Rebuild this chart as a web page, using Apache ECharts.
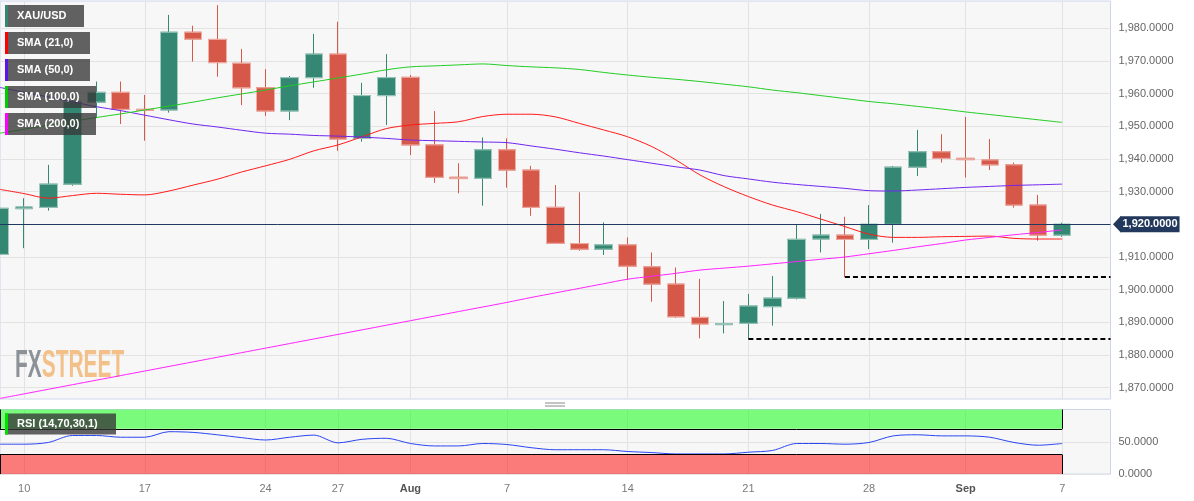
<!DOCTYPE html>
<html><head><meta charset="utf-8">
<script src="https://cdn.jsdelivr.net/npm/echarts@6/dist/echarts.min.js"></script>
<style>html,body{margin:0;padding:0;background:#fff;}#c{width:1194px;height:501px;}</style>
</head><body><div id="c"></div>
<script>
const dates = ['Jul 7','Jul 10','Jul 11','Jul 12','Jul 13','Jul 14','Jul 17','Jul 18','Jul 19','Jul 20','Jul 21','Jul 24','Jul 25','Jul 26','Jul 27','Jul 28','Jul 31','Aug 1','Aug 2','Aug 3','Aug 4','Aug 7','Aug 8','Aug 9','Aug 10','Aug 11','Aug 14','Aug 15','Aug 16','Aug 17','Aug 18','Aug 21','Aug 22','Aug 23','Aug 24','Aug 25','Aug 28','Aug 29','Aug 30','Aug 31','Sep 1','Sep 4','Sep 5','Sep 6','Sep 7'];
const futureDates = ['Sep 8','Sep 11'];
const opens  = [1910.8,1924.8,1925.2,1932.3,1957.4,1960.4,1955.2,1955.0,1978.8,1976.6,1969.3,1961.8,1954.7,1964.9,1972.1,1946.3,1959.4,1965.0,1944.3,1934.4,1934.1,1942.8,1936.6,1925.2,1914.1,1912.4,1913.7,1907.0,1901.7,1891.5,1889.3,1889.7,1894.8,1897.4,1915.5,1916.7,1915.4,1920.0,1937.5,1942.2,1940.2,1939.7,1938.2,1925.9,1916.7];
const highs  = [1934.6,1928.0,1938.2,1959.5,1963.7,1963.7,1959.6,1984.1,1980.8,1987.1,1973.7,1967.5,1965.4,1978.3,1982.0,1963.3,1972.1,1965.7,1954.7,1938.7,1946.6,1946.3,1937.9,1932.0,1929.8,1920.6,1916.0,1911.4,1906.8,1903.3,1896.5,1898.7,1904.2,1920.0,1923.2,1922.3,1925.9,1937.9,1948.9,1947.6,1952.9,1946.1,1938.9,1929.0,1920.5];
const lows   = [1909.6,1912.7,1924.2,1931.8,1952.5,1950.7,1945.6,1954.2,1969.8,1965.2,1956.5,1953.2,1951.9,1961.8,1942.5,1945.3,1950.4,1941.2,1932.7,1929.5,1925.7,1931.2,1922.6,1914.0,1911.9,1910.6,1903.0,1896.3,1891.4,1885.1,1886.6,1884.9,1889.0,1897.0,1911.4,1903.8,1912.4,1914.4,1934.8,1938.9,1934.3,1936.6,1925.1,1915.0,1916.2];
const closes = [1924.9,1925.3,1932.3,1957.5,1960.4,1955.2,1954.9,1978.8,1976.7,1969.5,1961.8,1954.7,1964.9,1972.1,1946.1,1959.4,1964.9,1944.3,1934.4,1934.0,1942.8,1936.6,1925.2,1914.2,1912.4,1913.7,1907.2,1901.7,1891.7,1889.5,1889.6,1895.0,1897.4,1915.4,1916.7,1915.4,1920.0,1937.5,1942.2,1940.2,1939.8,1938.2,1925.9,1916.7,1920.0];
const sma21  = [1930.7,1929.4,1928.0,1928.8,1929.5,1929.2,1929.0,1930.2,1932.0,1933.8,1936.0,1937.9,1939.9,1942.5,1944.3,1946.8,1949.3,1950.4,1950.9,1951.4,1953.0,1953.7,1953.7,1952.9,1950.9,1948.9,1946.8,1943.8,1939.7,1935.1,1931.5,1928.5,1925.9,1923.9,1921.6,1919.3,1917.0,1916.0,1916.0,1916.2,1916.3,1916.4,1915.7,1915.5,1915.5];
const sma50  = [1961.9,1960.4,1959.0,1957.5,1956.0,1954.8,1953.4,1952.0,1950.7,1949.8,1948.8,1947.9,1947.6,1947.2,1947.0,1946.7,1946.3,1945.8,1945.6,1945.4,1945.2,1945.0,1944.0,1943.0,1941.9,1940.9,1939.8,1938.7,1937.6,1936.6,1934.9,1933.9,1932.9,1932.2,1931.6,1931.0,1930.3,1930.2,1930.5,1930.9,1931.3,1931.6,1931.9,1932.1,1932.3];
const sma100 = [1947.9,1949.1,1950.3,1951.5,1952.7,1953.8,1955.0,1956.2,1957.4,1958.7,1959.9,1961.1,1962.4,1963.6,1964.8,1966.0,1967.3,1968.2,1968.5,1968.8,1969.1,1968.6,1968.2,1967.9,1967.4,1966.5,1965.7,1965.0,1964.4,1963.7,1962.9,1962.1,1961.1,1960.3,1959.4,1958.5,1957.6,1956.9,1956.1,1955.3,1954.4,1953.6,1952.8,1952.0,1951.2];
const sma200 = [1866.7,1868.1,1869.5,1870.9,1872.3,1873.7,1875.1,1876.5,1877.9,1879.3,1880.7,1882.1,1883.5,1884.9,1886.3,1887.7,1889.1,1890.5,1891.9,1893.3,1894.7,1896.1,1897.6,1899.0,1900.4,1901.8,1903.2,1904.1,1905.0,1906.0,1906.6,1907.2,1907.9,1908.6,1909.3,1910.0,1911.0,1912.0,1913.1,1914.1,1915.2,1916.0,1916.8,1917.5,1918.3];
const rsi    = [46.2,46.2,48.9,59.7,59.7,57.0,57.0,65.6,64.5,60.8,56.4,52.7,57.0,60.3,48.3,53.8,55.4,47.3,43.5,43.5,47.3,45.7,40.8,37.6,37.6,37.6,34.9,33.2,31.1,31.1,31.1,33.8,36.5,47.3,47.3,46.2,48.9,59.1,60.8,59.1,59.1,57.0,48.9,44.6,47.3];
const priceTicks = [1870,1880,1890,1900,1910,1920,1930,1940,1950,1960,1970,1980];
const rsiTicks = [0,50];
const labelDates = ['Jul 10','Jul 17','Jul 24','Jul 27','Aug 1','Aug 7','Aug 14','Aug 21','Aug 28','Sep 1','Sep 7'];
const labelTexts = ['10','17','24','27','Aug','7','14','21','28','Sep','7'];
const monthTexts = ['Aug','Sep'];
const levels = [{from:'Aug 25', value:1904.0},{from:'Aug 21', value:1884.9}];
const rsiBands = {overbought:70, oversold:30};
const legendNames = ['XAU/USD','SMA (21,0)','SMA (50,0)','SMA (100,0)','SMA (200,0)'];

const UP='#338773', DOWN='#d55848';
const cats = dates.concat(futureDates);
const lastDate = dates[dates.length-1];
const lastClose = closes[closes.length-1];
const candle = dates.map((d,i)=>[opens[i],closes[i],lows[i],highs[i]]);
const bodies = dates.map((d,i)=>[opens[i],closes[i],Math.min(opens[i],closes[i]),Math.max(opens[i],closes[i])]);
const fmt = v => Number(v).toLocaleString('en-US',{minimumFractionDigits:4,maximumFractionDigits:4});
const isLbl = (i,v) => labelDates.indexOf(v) >= 0;
const FONT = '"Liberation Sans", Arial, sans-serif';

const chart = echarts.init(document.getElementById('c'), null, {renderer:'canvas'});
const gridCommon = {show:true, backgroundColor:'#f7f7f7', borderColor:'#ccd6eb', borderWidth:1, containLabel:false, outerBoundsMode:'none'};
const xCommon = {type:'category', data:cats, boundaryGap:false,
  axisLine:{show:false}, axisTick:{show:false},
  splitLine:{show:true, interval:isLbl, lineStyle:{color:'#e3e3e3', width:1}}};

const legendColors = [UP,'#ff0000','#5a14e8','#00cc00','#ff00ff'];
const legendWidths = [79,85,85,91,91];
const TOP = 100;
const graphics = [];
legendNames.forEach((n,i)=>{
  const y = 5 + i*27;
  graphics.push({type:'rect', z:TOP, shape:{x:5,y:y,width:legendWidths[i],height:22}, style:{fill:'rgba(55,55,55,0.78)'}});
  graphics.push({type:'rect', z:TOP+1, shape:{x:5,y:y,width:3,height:22}, style:{fill:legendColors[i]}});
  graphics.push({type:'text', z:TOP+2, x:17, y:y+11, style:{text:n, fill:'#fff', font:'bold 11px '+FONT, verticalAlign:'middle'}});
});
graphics.push({type:'rect', z:TOP, shape:{x:5,y:413.5,width:111,height:21}, style:{fill:'rgba(55,55,55,0.78)'}});
graphics.push({type:'rect', z:TOP+1, shape:{x:5,y:413.5,width:3,height:21}, style:{fill:'#00e000'}});
graphics.push({type:'text', z:TOP+2, x:17, y:424, style:{text:'RSI (14,70,30,1)', fill:'#fff', font:'bold 11px '+FONT, verticalAlign:'middle'}});
graphics.push({type:'text', z:1, x:15, y:366.5, scaleX:0.55, style:{
  text:'{a|FX}{b|STREET}', verticalAlign:'middle',
  rich:{a:{fill:'#8d9198', font:'bold 38px "Liberation Sans Narrow", '+FONT}, b:{fill:'#f2c088', font:'bold 38px "Liberation Sans Narrow", '+FONT}}}});
graphics.push({type:'line', shape:{x1:545,y1:403,x2:565,y2:403}, style:{stroke:'#8a8a8a', lineWidth:1}});
graphics.push({type:'line', shape:{x1:545,y1:406,x2:565,y2:406}, style:{stroke:'#8a8a8a', lineWidth:1}});

const bandEdge = {color:'#000', width:1, type:'solid'};
const option = {
  animation:false,
  textStyle:{fontFamily:FONT},
  grid:[
    Object.assign({left:0, top:1, width:1110.5, height:398}, gridCommon),
    Object.assign({left:0, top:409.5, width:1110.5, height:64.5}, gridCommon)
  ],
  xAxis:[
    Object.assign({gridIndex:0, axisLabel:{show:false}}, xCommon),
    Object.assign({gridIndex:1, axisLabel:{show:true, interval:isLbl, margin:9, color:'#7a7a7a', fontSize:11,
      formatter:v=>{const t=labelTexts[labelDates.indexOf(v)]; return monthTexts.indexOf(t)>=0?'{m|'+t+'}':t;},
      rich:{m:{fontWeight:'bold', color:'#555', fontSize:11}}}}, xCommon)
  ],
  yAxis:[
    {gridIndex:0, type:'value', position:'right', scale:true, min:1866.53, max:1988.36,
     axisLine:{show:false}, axisTick:{show:false, customValues:priceTicks},
     axisLabel:{customValues:priceTicks, formatter:fmt, color:'#666', fontSize:11, margin:8},
     splitLine:{show:true, lineStyle:{color:'#e3e3e3'}}},
    {gridIndex:1, type:'value', position:'right', min:0, max:100,
     axisLine:{show:false}, axisTick:{show:false, customValues:rsiTicks},
     axisLabel:{customValues:rsiTicks, formatter:fmt, color:'#666', fontSize:11, margin:8},
     splitLine:{show:true, lineStyle:{color:'#e3e3e3'}}}
  ],
  graphic:graphics,
  series:[
    {name:'XAU/USD', type:'candlestick', xAxisIndex:0, yAxisIndex:0, data:candle, barWidth:18, z:2,
     itemStyle:{color:UP, color0:DOWN, borderColor:UP, borderColor0:DOWN, borderWidth:1},
     markLine:{silent:true, symbol:['none','none'], z:5, data:[
       {yAxis:lastClose, lineStyle:{color:'#1f3a60', width:1, type:'solid'},
        label:{show:true, position:'end', distance:10, formatter:fmt(lastClose), color:'#fff', backgroundColor:'#22385c',
               fontWeight:'bold', fontSize:11, padding:[3,2,2,2]}},
       ...levels.map(l=>[
         {coord:[l.from,l.value], lineStyle:{color:'#000', width:2, type:[5,3]}, label:{show:false}},
         {coord:[cats[cats.length-1],l.value]}])
     ]}},
    {name:'body', type:'candlestick', xAxisIndex:0, yAxisIndex:0, data:bodies, barWidth:18, z:3, silent:true,
     itemStyle:{color:UP, color0:DOWN, borderColor:'#a3cabf', borderColor0:'#efb0a8', borderWidth:1}},
    {name:'SMA (21,0)', type:'line', data:sma21, showSymbol:false, smooth:0.3, z:4, lineStyle:{color:'#ff1a1a', width:1}},
    {name:'SMA (50,0)', type:'line', data:sma50, showSymbol:false, smooth:0.3, z:4, lineStyle:{color:'#7025ef', width:1}},
    {name:'SMA (100,0)', type:'line', data:sma100, showSymbol:false, smooth:0.3, z:4, lineStyle:{color:'#22cc22', width:1}},
    {name:'SMA (200,0)', type:'line', data:sma200, showSymbol:false, smooth:0.3, z:4, lineStyle:{color:'#ff22ff', width:1}},
    {name:'RSI', type:'line', xAxisIndex:1, yAxisIndex:1, data:rsi, showSymbol:false, smooth:0.3, z:4,
     lineStyle:{color:'#2a45f2', width:1},
     markArea:{silent:true, data:[
       [{xAxis:dates[0], yAxis:rsiBands.overbought, itemStyle:{color:'rgba(0,255,0,0.5)'}},{xAxis:lastDate, yAxis:100}],
       [{xAxis:dates[0], yAxis:0, itemStyle:{color:'rgba(255,0,0,0.5)'}},{xAxis:lastDate, yAxis:rsiBands.oversold}]
     ]},
     markLine:{silent:true, symbol:['none','none'], label:{show:false}, lineStyle:bandEdge, data:[
       [{coord:[dates[0],rsiBands.overbought]},{coord:[lastDate,rsiBands.overbought]}],
       [{coord:[dates[0],rsiBands.oversold]},{coord:[lastDate,rsiBands.oversold]}],
       [{coord:[lastDate,rsiBands.overbought]},{coord:[lastDate,100]}],
       [{coord:[lastDate,0]},{coord:[lastDate,rsiBands.oversold]}],
       [{coord:[dates[0],rsiBands.overbought]},{coord:[dates[0],100]}],
       [{coord:[dates[0],0]},{coord:[dates[0],rsiBands.oversold]}]
     ]}}
  ]
};
chart.setOption(option);
const py = chart.convertToPixel({yAxisIndex:0}, lastClose);
const px = chart.convertToPixel({xAxisIndex:0}, cats[cats.length-1]);
graphics.push({type:'polygon', z:TOP, shape:{points:[[px+2.5,py],[px+10.5,py-8.5],[px+10.5,py+8.5]]}, style:{fill:'#22385c'}});
chart.setOption({graphic:graphics});
</script></body></html>
